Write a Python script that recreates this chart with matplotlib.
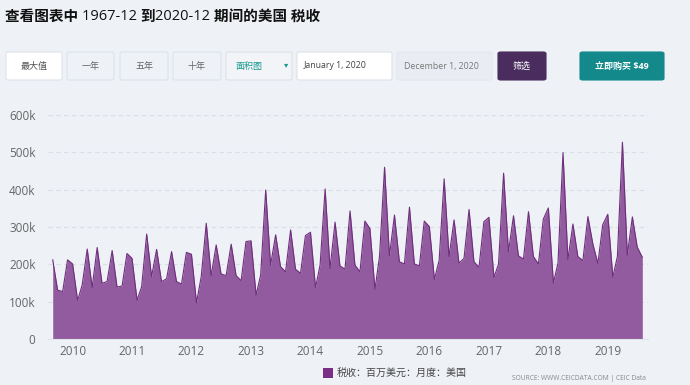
import numpy as np
import pandas as pd
import matplotlib
matplotlib.use("Agg")
import matplotlib.pyplot as plt
import matplotlib.dates as mdates
from matplotlib.patches import FancyBboxPatch, Rectangle

plt.rcParams['font.family'] = ['Open Sans', 'Noto Sans CJK SC', 'DejaVu Sans']

# monthly tax receipts, thousands of USD mn, Sep 2009 - Aug 2019
months = pd.date_range('2009-09-01', periods=120, freq='MS')
receipts_k = [
    212, 131, 127, 212, 201, 103, 145, 241, 138, 245, 149, 154,
    237, 139, 142, 229, 216, 104, 140, 281, 167, 240, 154, 161,
    234, 154, 147, 232, 227, 97, 167, 310, 170, 252, 174, 170,
    254, 170, 156, 261, 263, 118, 171, 399, 198, 279, 194, 180,
    292, 187, 176, 277, 286, 138, 198, 402, 189, 313, 196, 187,
    343, 198, 180, 316, 296, 133, 221, 460, 223, 332, 207, 201,
    353, 201, 196, 316, 301, 160, 210, 429, 221, 319, 203, 216,
    347, 207, 192, 314, 326, 165, 201, 444, 234, 330, 223, 214,
    341, 221, 201, 321, 351, 150, 203, 499, 213, 308, 221, 210,
    328, 255, 202, 306, 334, 166, 221, 527, 225, 327, 246, 219,
]
values = np.array(receipts_k) * 1000

yticks = [0, 100000, 200000, 300000, 400000, 500000, 600000]
ytick_labels = ['0', '100k', '200k', '300k', '400k', '500k', '600k']
years = [2010, 2011, 2012, 2013, 2014, 2015, 2016, 2017, 2018, 2019]

# title pieces: (text, bold?)
title_parts = [('查看图表中 ', True), ('1967-12 ', False), ('到', True),
               ('2020-12 ', False), ('期间的美国 税收', True)]
buttons = ['最大值', '一年', '五年', '十年', '面积图', 'January 1, 2020',
           'December 1, 2020', '筛选', '立即购买 $49']
legend_label = '税收：百万美元：月度：美国'
source = 'SOURCE: WWW.CEICDATA.COM | CEIC Data'

W, H = 690, 385
bg = '#eef1f6'
fill_c = '#925a9f'
line_c = '#6e2f7b'

fig = plt.figure(figsize=(W / 100, H / 100), dpi=100)
fig.patch.set_facecolor(bg)


def fx(px):
    return px / W


def fy(py):
    return 1 - py / H


# plot area
ax = fig.add_axes([fx(48), fy(339), fx(648) - fx(48), fy(115) - fy(339)])
ax.set_facecolor(bg)
ax.fill_between(months, values, 0, color=fill_c, lw=0)
ax.plot(months, values, color=line_c, lw=0.8)

ax.set_ylim(0, 600000)
ax.set_xlim(mdates.date2num(months[0]) - 29, mdates.date2num(months[-1]) + 35)
ax.set_yticks(yticks)
ax.set_yticklabels(ytick_labels)
ax.set_xticks([pd.Timestamp(f'{y}-01-01') for y in years])
ax.set_xticklabels([str(y) for y in years])
ax.tick_params(axis='both', length=0, colors='#666666', labelsize=8.5)
ax.tick_params(axis='y', pad=9)
ax.tick_params(axis='x', pad=4)
ax.grid(axis='y', color='#dadee5', linestyle=(0, (4, 3)), lw=0.8)
ax.set_axisbelow(True)
for s in ['top', 'right', 'left']:
    ax.spines[s].set_visible(False)
ax.spines['bottom'].set_color('#dfe3ea')
ax.spines['bottom'].set_linewidth(0.8)

# header title, drawn piece by piece
renderer = fig.canvas.get_renderer()
x = fx(5)
for txt, bold in title_parts:
    t = fig.text(x, fy(17), txt, fontsize=10.5 if bold else 10.5,
                 fontweight='bold' if bold else 'normal', color='#111111',
                 va='center', ha='left')
    bb = t.get_window_extent(renderer)
    x += bb.width / W

# button row
boxes = [(6, 62), (67, 114), (120, 168), (173, 221), (226, 292), (297, 392),
         (397, 492), (498, 546), (580, 664)]
faces = ['#ffffff', bg, bg, bg, '#f2f4f8', '#ffffff', '#e9edf3', '#4a2c5e', '#13898b']
edges = ['#dde2ea', '#dde2ea', '#dde2ea', '#dde2ea', '#dde2ea', '#dde2ea',
         '#e3e7ee', '#4a2c5e', '#13898b']
tcolors = ['#555555', '#666666', '#666666', '#666666', '#199a8e', '#444444',
           '#777777', '#ffffff', '#ffffff']
top, bottom = 52, 80
for (x0, x1), fc, ec, tc, lab in zip(boxes, faces, edges, tcolors, buttons):
    fig.patches.append(FancyBboxPatch((fx(x0), fy(bottom)), fx(x1 - x0), fy(top) - fy(bottom),
                                      boxstyle='round,pad=0,rounding_size=0.004',
                                      transform=fig.transFigure, facecolor=fc,
                                      edgecolor=ec, lw=0.8))
    if lab == '面积图':
        fig.text(fx(236), fy(66), lab, fontsize=6.5, color=tc, va='center', ha='left')
        fig.text(fx(286), fy(65), '▾', fontsize=6, color=tc, va='center', ha='center',
                 family='DejaVu Sans')
    elif lab.startswith('January') or lab.startswith('December'):
        fig.text(fx(x0 + 7), fy(66), lab, fontsize=6.3, color=tc, va='center', ha='left')
    else:
        fig.text(fx((x0 + x1) / 2), fy(66), lab, fontsize=6.5, color=tc,
                 va='center', ha='center',
                 fontweight='bold' if '$' in lab else 'normal')

# legend
fig.patches.append(Rectangle((fx(323), fy(378)), fx(10), fy(368) - fy(378),
                             transform=fig.transFigure, facecolor='#7a2f87', lw=0))
fig.text(fx(337), fy(373), legend_label, fontsize=7.2, color='#444444',
         va='center', ha='left')
fig.text(fx(512), fy(379), source, fontsize=4.8, color='#888888',
         va='center', ha='left')

fig.savefig('out.png', dpi=100, facecolor=bg)
